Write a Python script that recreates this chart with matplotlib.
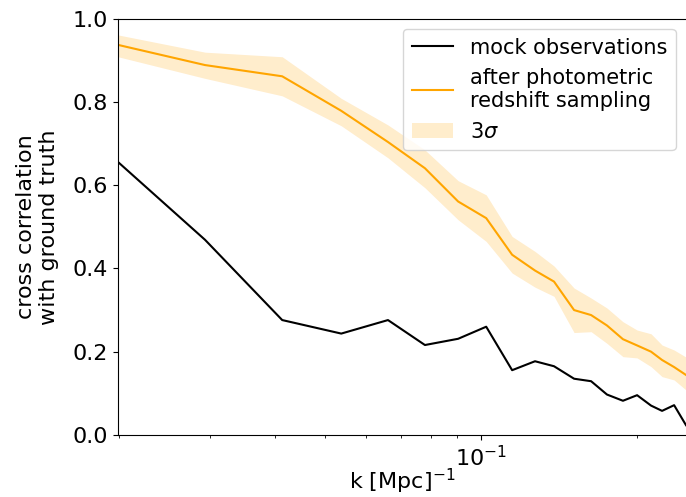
import matplotlib
matplotlib.use("Agg")
import matplotlib.pyplot as plt

# wavenumber bins
k = [0.0199, 0.0293, 0.0413, 0.0537, 0.0661, 0.0779, 0.0903, 0.1023, 0.1148, 0.1271,
     0.1383, 0.1512, 0.1631, 0.1750, 0.1879, 0.2001, 0.2129, 0.2236, 0.2359, 0.2487]
mock = [0.656, 0.469, 0.276, 0.2435, 0.276, 0.216, 0.231, 0.260, 0.1555, 0.177,
        0.165, 0.135, 0.129, 0.097, 0.082, 0.0954, 0.0704, 0.0577, 0.0714, 0.0233]
photoz = [0.9375, 0.889, 0.862, 0.779, 0.704, 0.641, 0.561, 0.521, 0.433, 0.395,
          0.3685, 0.300, 0.288, 0.263, 0.230, 0.215, 0.200, 0.180, 0.163, 0.144]
upper = [0.9615, 0.920, 0.909, 0.809, 0.745, 0.685, 0.611, 0.577, 0.477, 0.441,
         0.406, 0.353, 0.329, 0.305, 0.272, 0.252, 0.243, 0.216, 0.204, 0.187]
lower = [0.909, 0.857, 0.815, 0.743, 0.666, 0.594, 0.517, 0.465, 0.389, 0.355,
         0.333, 0.246, 0.248, 0.220, 0.188, 0.185, 0.164, 0.140, 0.132, 0.108]

plt.rcParams["font.size"] = 16

fig = plt.figure(figsize=(6.86, 4.97), dpi=100)
# original is cropped at the right edge, so no right spine
ax = fig.add_axes([0.172, 0.125, 0.828, 0.837])
ax.spines["right"].set_visible(False)

ax.plot(k, mock, color="black", label="mock observations")
ax.plot(k, photoz, color="orange", label="after photometric\nredshift sampling")
ax.fill_between(k, lower, upper, color="orange", alpha=0.2, linewidth=0, label=r"3$\sigma$")

ax.set_xscale("log")
ax.set_xlim(k[0], k[-1])
ax.set_ylim(0, 1.0)
ax.set_xlabel(r"k [Mpc]$^{-1}$", labelpad=-2)
ax.set_ylabel("cross correlation\nwith ground truth", labelpad=10)
ax.legend(loc="upper right", fontsize=15)

plt.savefig("out.png", dpi=100)
